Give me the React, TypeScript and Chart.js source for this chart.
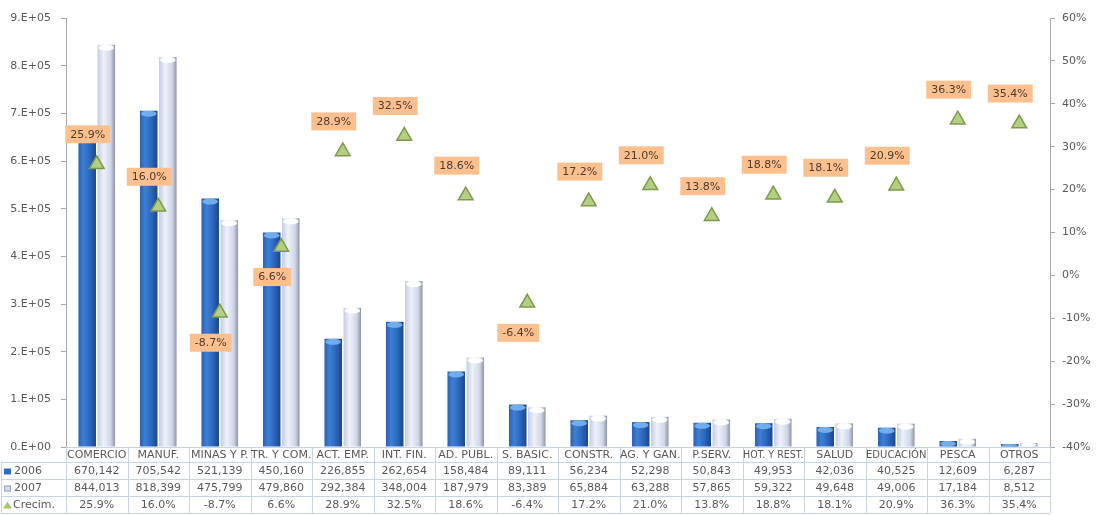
import React, { useEffect, useRef } from "react";
import { Chart, registerables } from "chart.js";

Chart.register(...registerables);

const categories = [
  "COMERCIO", "MANUF.", "MINAS Y P.", "TR. Y COM.", "ACT. EMP.", "INT. FIN.",
  "AD. PUBL.", "S. BASIC.", "CONSTR.", "AG. Y GAN.", "P.SERV.", "HOT. Y REST.",
  "SALUD", "EDUCACIÓN", "PESCA", "OTROS",
];
const values2006 = [670142, 705542, 521139, 450160, 226855, 262654, 158484, 89111, 56234, 52298, 50843, 49953, 42036, 40525, 12609, 6287];
const values2007 = [844013, 818399, 475799, 479860, 292384, 348004, 187979, 83389, 65884, 63288, 57865, 59322, 49648, 49006, 17184, 8512];
const growth = [25.9, 16.0, -8.7, 6.6, 28.9, 32.5, 18.6, -6.4, 17.2, 21.0, 13.8, 18.8, 18.1, 20.9, 36.3, 35.4];
const labelSide = ["a", "a", "b", "b", "a", "a", "a", "b", "a", "a", "a", "a", "a", "a", "a", "a"];
const seriesNames = ["2006", "2007", "Crecim."];

const FONT = "DejaVu Sans, Verdana, sans-serif";
const TEXT = "#595959";
const CAT_PCT = 0.62;
const BAR_PCT = 0.92;

function barGradient(ctx: any, which: number) {
  const chart = ctx.chart;
  const xs = chart.scales && chart.scales.x;
  const fallback = which === 0 ? "#2f6cc0" : "#d8dff0";
  if (ctx.type !== "data" || !xs || !isFinite(xs.width) || xs.width <= 0) return fallback;
  const catW = xs.width / categories.length;
  const size = catW * CAT_PCT;
  const slot = size / 2;
  const w = slot * BAR_PCT;
  const cx = xs.getPixelForValue(ctx.dataIndex) - size / 2 + slot * (which + 0.5);
  const g = chart.ctx.createLinearGradient(cx - w / 2, 0, cx + w / 2, 0);
  if (which === 0) {
    g.addColorStop(0, "#2a62b4");
    g.addColorStop(0.3, "#3d7fd6");
    g.addColorStop(0.65, "#2c66bb");
    g.addColorStop(1, "#1b468c");
  } else {
    g.addColorStop(0, "#c3cce0");
    g.addColorStop(0.35, "#eef1fa");
    g.addColorStop(0.75, "#cfd6e8");
    g.addColorStop(1, "#8e95a6");
  }
  return g;
}

const capsPlugin = {
  id: "caps",
  afterDatasetDraw(chart: any, args: any) {
    const meta = args.meta;
    if (meta.type !== "bar") return;
    const ctx = chart.ctx;
    ctx.save();
    meta.data.forEach((el: any) => {
      const w = el.width;
      const h = Math.min(3, Math.abs(el.base - el.y) / 2);
      if (h < 0.5) return;
      ctx.beginPath();
      ctx.ellipse(el.x, el.y + h, w / 2 - 1, h, 0, 0, Math.PI * 2);
      ctx.fillStyle = args.index === 1 ? "rgba(120,180,240,0.9)" : "rgba(255,255,255,0.95)";
      ctx.fill();
    });
    ctx.restore();
  },
};

const labelsPlugin = {
  id: "growthLabels",
  afterDatasetsDraw(chart: any) {
    const meta = chart.getDatasetMeta(0);
    const ctx = chart.ctx;
    ctx.save();
    ctx.font = `11px ${FONT}`;
    ctx.textAlign = "center";
    ctx.textBaseline = "middle";
    meta.data.forEach((pt: any, i: number) => {
      const text = growth[i].toFixed(1) + "%";
      const tw = ctx.measureText(text).width;
      const bw = tw + 10;
      const bh = 18;
      const cx = pt.x - 9;
      const cy = labelSide[i] === "a" ? pt.y - 30 : pt.y + 30;
      ctx.fillStyle = "#fbc08e";
      ctx.fillRect(cx - bw / 2, cy - bh / 2, bw, bh);
      ctx.fillStyle = "#4e3a2e";
      ctx.fillText(text, cx, cy + 0.5);
    });
    ctx.restore();
  },
};

const tablePlugin = {
  id: "dataTable",
  afterDraw(chart: any) {
    const xs = chart.scales.x;
    const area = chart.chartArea;
    const ctx = chart.ctx;
    const n = categories.length;
    const colW = (area.right - area.left) / n;
    const top = area.bottom;
    const rows = [top, top + 15, top + 32, top + 49, top + 66];
    ctx.save();
    ctx.strokeStyle = "#c9d3e3";
    ctx.lineWidth = 1;
    // horizontal lines
    for (let r = 1; r < rows.length; r++) {
      ctx.beginPath();
      ctx.moveTo(1, Math.round(rows[r]) + 0.5);
      ctx.lineTo(area.right, Math.round(rows[r]) + 0.5);
      ctx.stroke();
    }
    // vertical lines
    for (let k = 0; k <= n; k++) {
      const x = Math.round(area.left + k * colW) + 0.5;
      ctx.beginPath();
      ctx.moveTo(x, top);
      ctx.lineTo(x, rows[4]);
      ctx.stroke();
    }
    ctx.beginPath();
    ctx.moveTo(1.5, rows[1]);
    ctx.lineTo(1.5, rows[4]);
    ctx.stroke();

    ctx.font = `11px ${FONT}`;
    ctx.textBaseline = "middle";
    ctx.textAlign = "center";
    ctx.fillStyle = TEXT;
    categories.forEach((c, i) => {
      const x = xs.getPixelForValue(i);
      ctx.fillText(c, x, (rows[0] + rows[1]) / 2 + 1, colW - 1);
      ctx.fillText(values2006[i].toLocaleString("en-US"), x, (rows[1] + rows[2]) / 2 + 1);
      ctx.fillText(values2007[i].toLocaleString("en-US"), x, (rows[2] + rows[3]) / 2 + 1);
      ctx.fillText(growth[i].toFixed(1) + "%", x, (rows[3] + rows[4]) / 2 + 1);
    });

    // row headers
    ctx.textAlign = "left";
    for (let r = 0; r < 3; r++) {
      const cy = (rows[r + 1] + rows[r + 2]) / 2 + 1;
      if (r === 0) {
        ctx.fillStyle = "#2f6cc0";
        ctx.fillRect(4, cy - 3, 7, 6);
      } else if (r === 1) {
        ctx.fillStyle = "#d4dbea";
        ctx.fillRect(4, cy - 3, 7, 6);
        ctx.strokeStyle = "#9aa2b4";
        ctx.strokeRect(4.5, cy - 2.5, 6, 5);
      } else {
        ctx.beginPath();
        ctx.moveTo(7.5, cy - 4);
        ctx.lineTo(12, cy + 3);
        ctx.lineTo(3, cy + 3);
        ctx.closePath();
        ctx.fillStyle = "#a9c66f";
        ctx.fill();
      }
      ctx.fillStyle = TEXT;
      ctx.fillText(seriesNames[r], r === 2 ? 13 : 14, cy);
    }
    ctx.restore();
  },
};

export default function App() {
  const ref = useRef<HTMLCanvasElement | null>(null);

  useEffect(() => {
    if (!ref.current) return;
    const chart = new Chart(ref.current, {
      type: "bar",
      data: {
        labels: categories,
        datasets: [
          {
            type: "line",
            label: seriesNames[2],
            data: growth,
            yAxisID: "y1",
            showLine: false,
            pointStyle: "triangle",
            pointRadius: 8.5,
            pointBackgroundColor: "#b3cf82",
            pointBorderColor: "#7d9a4c",
            pointBorderWidth: 1.5,
            order: 0,
          } as any,
          {
            label: seriesNames[0],
            data: values2006,
            yAxisID: "y",
            backgroundColor: (c: any) => barGradient(c, 0),
            categoryPercentage: CAT_PCT,
            barPercentage: BAR_PCT,
            order: 1,
          },
          {
            label: seriesNames[1],
            data: values2007,
            yAxisID: "y",
            backgroundColor: (c: any) => barGradient(c, 1),
            categoryPercentage: CAT_PCT,
            barPercentage: BAR_PCT,
            order: 1,
          },
        ],
      },
      options: {
        responsive: false,
        animation: false,
        devicePixelRatio: 1,
        layout: { padding: { top: 18, left: 0, right: 0, bottom: 0 } },
        plugins: {
          legend: { display: false },
          tooltip: { enabled: false },
        },
        scales: {
          x: {
            ticks: { display: false },
            grid: { display: false },
            border: { display: true, color: "#c9d3e3" },
            afterFit: (s: any) => { s.height = 68; },
          },
          y: {
            position: "left",
            min: 0,
            max: 900000,
            ticks: {
              stepSize: 100000,
              color: TEXT,
              font: { family: FONT, size: 11 },
              padding: 10,
              callback: (v: any) => (v === 0 ? "0.E+00" : `${Math.round(v / 100000)}.E+05`),
            },
            grid: { drawOnChartArea: false, drawTicks: true, tickLength: 5, color: "#a6a6a6" },
            border: { display: true, color: "#a6a6a6" },
            afterFit: (s: any) => { s.width = 66; },
          },
          y1: {
            position: "right",
            min: -40,
            max: 60,
            ticks: {
              stepSize: 10,
              color: TEXT,
              font: { family: FONT, size: 11 },
              padding: 7,
              callback: (v: any) => `${v}%`,
            },
            grid: { drawOnChartArea: false, drawTicks: true, tickLength: 5, color: "#a6a6a6" },
            border: { display: true, color: "#a6a6a6" },
            afterFit: (s: any) => { s.width = 47; },
          },
        },
      },
      plugins: [capsPlugin, labelsPlugin, tablePlugin],
    });
    return () => chart.destroy();
  }, []);

  return (
    <div style={{ position: "fixed", left: 0, top: 0, width: 1097, height: 515, background: "#fff" }}>
      <canvas ref={ref} width={1097} height={515} style={{ width: 1097, height: 515 }} />
    </div>
  );
}
